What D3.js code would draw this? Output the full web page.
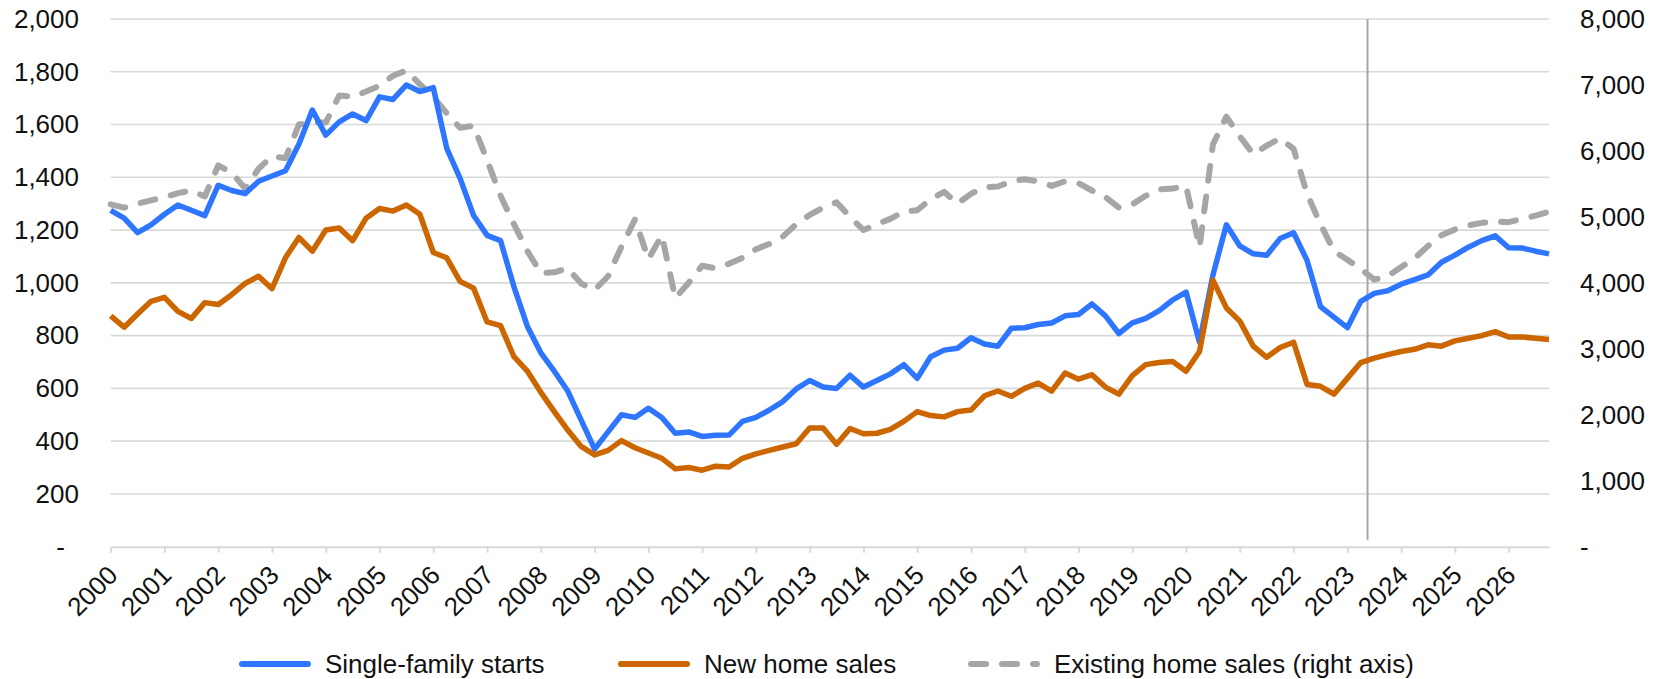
<!DOCTYPE html>
<html>
<head>
<meta charset="utf-8">
<script src="https://cdn.jsdelivr.net/npm/d3@7"></script>
<style>
  body { margin: 0; background: #fff; }
  svg { display: block; font-family: Arial, "Liberation Sans", sans-serif; }
</style>
</head>
<body>
<svg id="chart" width="1663" height="679"></svg>
<script>
// year labels on the x axis (data is quarterly, 2000Q1 .. 2026Q4)
var years = [2000, 2001, 2002, 2003, 2004, 2005, 2006, 2007, 2008, 2009, 2010, 2011, 2012, 2013,
  2014, 2015, 2016, 2017, 2018, 2019, 2020, 2021, 2022, 2023, 2024, 2025, 2026];

// single-family starts, thousands (left axis)
var starts = [
  1275, 1245, 1190, 1220, 1260, 1295, 1275, 1255, 1370, 1350, 1338, 1385, 1405, 1425, 1525, 1655,
  1560, 1610, 1640, 1615, 1705, 1695, 1750, 1725, 1740, 1510, 1395, 1255, 1180, 1160, 985, 835,
  735, 665, 590, 480, 370, 435, 500, 490, 525, 490, 430, 435, 418, 422, 423, 475,
  490, 518, 550, 598, 630, 605, 600, 650, 605, 630, 655, 690, 638, 720, 745, 752,
  792, 768, 760, 828, 830, 842, 848, 875, 880, 920, 875, 808, 848, 865, 895, 935,
  965, 775, 1030, 1220, 1140, 1110, 1105, 1168, 1190, 1085, 910, 870, 830, 930, 960, 970,
  995, 1012, 1030, 1078, 1105, 1135, 1160, 1178, 1133, 1132, 1120, 1110
];

// new home sales, thousands (left axis)
var newSales = [
  875, 832, 882, 930, 945, 892, 865, 925, 918, 955, 998, 1025, 978, 1095, 1172, 1120,
  1200, 1208, 1160, 1245, 1282, 1272, 1295, 1260, 1115, 1095, 1005, 980, 852, 838, 720, 665,
  585, 512, 442, 380, 348, 365, 402, 375, 355, 335, 295, 300, 290, 305, 302, 335,
  352, 365, 378, 390, 450, 450, 388, 448, 428, 430, 445, 475, 512, 497, 492, 512,
  518, 572, 590, 570, 600, 620, 590, 658, 635, 652, 605, 578, 648, 690, 698, 702,
  665, 740, 1010, 905, 855, 760, 718, 755, 775, 615, 608, 578, 638, 698, 715, 728,
  740, 748, 765, 760, 780, 790, 800, 815, 795, 795, 790, 785
];

// existing home sales, thousands (right axis)
var existingSales = [
  5190, 5140, 5200, 5250, 5300, 5360, 5400, 5310, 5780, 5670, 5430, 5730, 5920, 5890, 6400, 6430,
  6430, 6840, 6820, 6900, 6990, 7140, 7220, 7010, 6820, 6570, 6350, 6380, 5860, 5320, 4890, 4480,
  4150, 4160, 4220, 3990, 3890, 4100, 4550, 4960, 4360, 4720, 3770, 4000, 4260, 4220, 4290, 4380,
  4510, 4590, 4700, 4890, 5030, 5140, 5220, 5000, 4800, 4890, 4970, 5080, 5100, 5270, 5380, 5200,
  5350, 5450, 5460, 5540, 5570, 5540, 5470, 5540, 5510, 5400, 5300, 5140, 5190, 5320, 5415, 5430,
  5470, 4540, 6100, 6520, 6220, 5950, 6080, 6190, 6030, 5350, 4890, 4480, 4350, 4210, 4050, 4100,
  4240, 4370, 4560, 4720, 4810, 4870, 4910, 4930, 4920, 4970, 5020, 5080
];

var leftTicks = [0, 200, 400, 600, 800, 1000, 1200, 1400, 1600, 1800, 2000];
var rightTicks = [0, 1000, 2000, 3000, 4000, 5000, 6000, 7000, 8000];
var forecastStart = 93.5; // quarter index where the vertical marker sits (mid 2023)

var series = [
  { name: "Single-family starts", values: starts, axis: "left", color: "#2E75FF", dash: null },
  { name: "New home sales", values: newSales, axis: "left", color: "#CC6600", dash: null },
  { name: "Existing home sales (right axis)", values: existingSales, axis: "right", color: "#A6A6A6", dash: "15,16" }
];

(function(){
  var svg = d3.select("#chart");
  var plotL = 110.7, plotR = 1549, plotT = 19, plotB = 546.7;

  var x = d3.scaleLinear().domain([0, starts.length - 1]).range([plotL, plotR]);
  var yL = d3.scaleLinear().domain([0, 2000]).range([plotB, plotT]);
  var yR = d3.scaleLinear().domain([0, 8000]).range([plotB, plotT]);

  var fmt = d3.format(",");
  var textColor = "#111";
  var gridColor = "#D9D9D9";

  // gridlines
  svg.append("g").selectAll("line")
    .data(leftTicks.filter(function(d){ return d > 0; }))
    .enter().append("line")
    .attr("x1", plotL).attr("x2", plotR)
    .attr("y1", function(d){ return yL(d); })
    .attr("y2", function(d){ return yL(d); })
    .attr("stroke", gridColor)
    .attr("stroke-width", 1.6);

  // vertical marker
  svg.append("line")
    .attr("x1", x(forecastStart)).attr("x2", x(forecastStart))
    .attr("y1", plotT).attr("y2", plotB - 7)
    .attr("stroke", "#A6A6A6")
    .attr("stroke-width", 2);

  // x axis
  var yearIdx = years.map(function(y, i){ return i * 4; });
  var gx = svg.append("g")
    .attr("transform", "translate(0," + plotB + ")")
    .call(d3.axisBottom(x).tickValues(yearIdx).tickSize(6).tickSizeOuter(0)
      .tickFormat(function(d, i){ return years[i]; }));
  gx.select(".domain").attr("stroke", gridColor).attr("stroke-width", 2);
  gx.selectAll(".tick line").attr("stroke", gridColor).attr("stroke-width", 2);
  gx.selectAll(".tick text")
    .attr("y", 0).attr("dy", 0)
    .attr("transform", "translate(8,30) rotate(-45)")
    .attr("text-anchor", "end")
    .attr("font-size", 26)
    .attr("fill", textColor);

  // left axis
  var gl = svg.append("g")
    .attr("transform", "translate(79,0)")
    .call(d3.axisLeft(yL).tickValues(leftTicks).tickSize(0).tickPadding(0)
      .tickFormat(function(d){ return d === 0 ? "-" : fmt(d); }));
  gl.select(".domain").remove();
  gl.selectAll(".tick text")
    .attr("font-size", 26)
    .attr("fill", textColor)
    .attr("dx", function(d){ return d === 0 ? -14 : 0; });

  // right axis
  var gr = svg.append("g")
    .attr("transform", "translate(1580,0)")
    .call(d3.axisRight(yR).tickValues(rightTicks).tickSize(0).tickPadding(0)
      .tickFormat(function(d){ return d === 0 ? "-" : fmt(d); }));
  gr.select(".domain").remove();
  gr.selectAll(".tick text")
    .attr("font-size", 26)
    .attr("fill", textColor);

  // lines (existing first so it sits underneath)
  var drawOrder = [series[2], series[0], series[1]];
  drawOrder.forEach(function(s){
    var yScale = s.axis === "left" ? yL : yR;
    var line = d3.line()
      .x(function(d, i){ return x(i); })
      .y(function(d){ return yScale(d); });
    svg.append("path")
      .datum(s.values)
      .attr("d", line)
      .attr("fill", "none")
      .attr("stroke", s.color)
      .attr("stroke-width", s.dash ? 6 : 5.5)
      .attr("stroke-linejoin", "round")
      .attr("stroke-linecap", s.dash ? "round" : "butt")
      .attr("stroke-dasharray", s.dash);
  });

  // legend
  var legendX = [239, 618, 968];
  var legendY = 664;
  var lg = svg.append("g").selectAll("g")
    .data(series).enter().append("g")
    .attr("transform", function(d, i){ return "translate(" + legendX[i] + "," + legendY + ")"; });
  lg.append("line")
    .attr("x1", 3).attr("x2", 69)
    .attr("stroke", function(d){ return d.color; })
    .attr("stroke-width", 6)
    .attr("stroke-linecap", "round")
    .attr("stroke-dasharray", function(d){ return d.dash; });
  lg.append("text")
    .attr("x", 86).attr("y", 9)
    .attr("font-size", 26)
    .attr("fill", textColor)
    .text(function(d){ return d.name; });
})();
</script>
</body>
</html>
